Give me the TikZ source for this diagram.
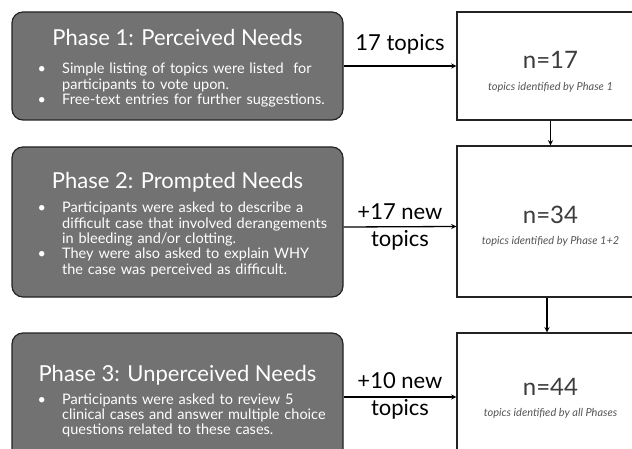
\documentclass[tikz,border=0pt]{standalone}
\usepackage{fontspec}
\setmainfont{Lato}
\usetikzlibrary{positioning, arrows}
\definecolor{phasefill}{RGB}{114,114,114}
\definecolor{phaseline}{RGB}{35,35,35}
\definecolor{numtext}{RGB}{60,60,60}
\definecolor{subtext}{RGB}{85,85,85}
\newenvironment{blts}{\begin{list}{\textbullet}{\setlength{\leftmargin}{26pt}%
	\setlength{\labelwidth}{24.5pt}\setlength{\labelsep}{0pt}\setlength{\itemsep}{0pt}%
	\setlength{\parsep}{0pt}\setlength{\topsep}{0pt}\setlength{\partopsep}{0pt}%
	\renewcommand\makelabel[1]{##1\hfil}}}{\end{list}}
\newcommand{\nl}{\hfil\break}

\begin{document}
\begin{tikzpicture}[x=1pt,y=-1pt,>=stealth,
	phase/.style={draw=phaseline,line width=1.2pt,fill=phasefill,rounded corners=11pt,
		minimum width=331pt,inner sep=0pt},
	count/.style={draw=phaseline,line width=1.3pt,fill=white,minimum width=187pt,inner sep=0pt},
	title/.style={text=white,font=\fontsize{22}{26}\selectfont,inner sep=0pt},
	blist/.style={text=white,font=\fontsize{14.5}{15.3}\selectfont,text width=300pt,
		align=left,inner sep=0pt,anchor=north west},
	num/.style={text=numtext,font=\fontsize{24}{28}\selectfont,inner sep=0pt},
	sub/.style={text=subtext,font=\fontsize{11}{13}\selectfont\itshape,inner sep=0pt},
	flow/.style={->,line width=1.3pt},
	lbl/.style={font=\fontsize{22}{26}\selectfont,inner sep=0pt}]
	\useasboundingbox (0,0) rectangle (632,449);
	\clip (0,0) rectangle (632,449);
	% phase boxes
	\node[phase,minimum height=108pt] (p1) at (177.5,66) {};
	\node[phase,minimum height=150pt] (p2) at (177.5,222) {};
	\node[phase,minimum height=128pt] (p3) at (177.5,397) {};
	\node[title] (t1) at (177.5,37) {Phase 1: Perceived Needs};
	\node[title] (t2) at (177.5,182) {Phase 2: Prompted Needs};
	\node[title] (t3) at (177.5,375) {Phase 3: Unperceived Needs};
	\node[blist] (l1) at (36,58.5) {\begin{blts}
		\item Simple listing of topics were listed\ \ for\nl participants to vote upon.
		\item Free-text entries for further suggestions.
	\end{blts}};
	\node[blist] (l2) at (36,197.5) {\begin{blts}
		\item Participants were asked to describe a\nl difficult case that involved derangements\nl
			in bleeding and/or clotting.
		\item They were also asked to explain WHY\nl the case was perceived as difficult.
	\end{blts}};
	\node[blist] (l3) at (36,388.5) {\begin{blts}
		\item Participants were asked to review 5\nl clinical cases and answer multiple choice\nl
			questions related to these cases.
	\end{blts}};
	% count boxes
	\node[count,minimum height=108pt] (r1) at (550.5,66) {};
	\node[count,minimum height=151pt] (r2) at (550.5,221.5) {};
	\node[count,minimum height=128pt] (r3) at (550.5,397) {};
	\node[num] (n1) at (550.5,60) {n=17};
	\node[sub] (s1) at (550.5,87) {topics identified by Phase 1};
	\node[num] (n2) at (550.5,215) {n=34};
	\node[sub] (s2) at (550.5,241) {topics identified by Phase 1+2};
	\node[num] (n3) at (550.5,387) {n=44};
	\node[sub] (s3) at (550.5,413) {topics identified by all Phases};
	% arrows
	\draw[flow] (p1) -- (r1) node[lbl,midway,yshift=22pt] {17 topics};
	\draw[flow] ([yshift=-5pt]p2.east) -- ([yshift=-5pt]r2.west)
		node[lbl,midway,yshift=15pt] {+17 new} node[lbl,midway,yshift=-14pt] {topics};
	\draw[flow] (p3) -- (r3)
		node[lbl,midway,yshift=16pt] {+10 new} node[lbl,midway,yshift=-12pt] {topics};
	\draw[flow] (r1) -- (r2);
	\draw[flow] ([xshift=-3.5pt]r2.south) -- ([xshift=-3.5pt]r3.north);
\end{tikzpicture}
\end{document}
